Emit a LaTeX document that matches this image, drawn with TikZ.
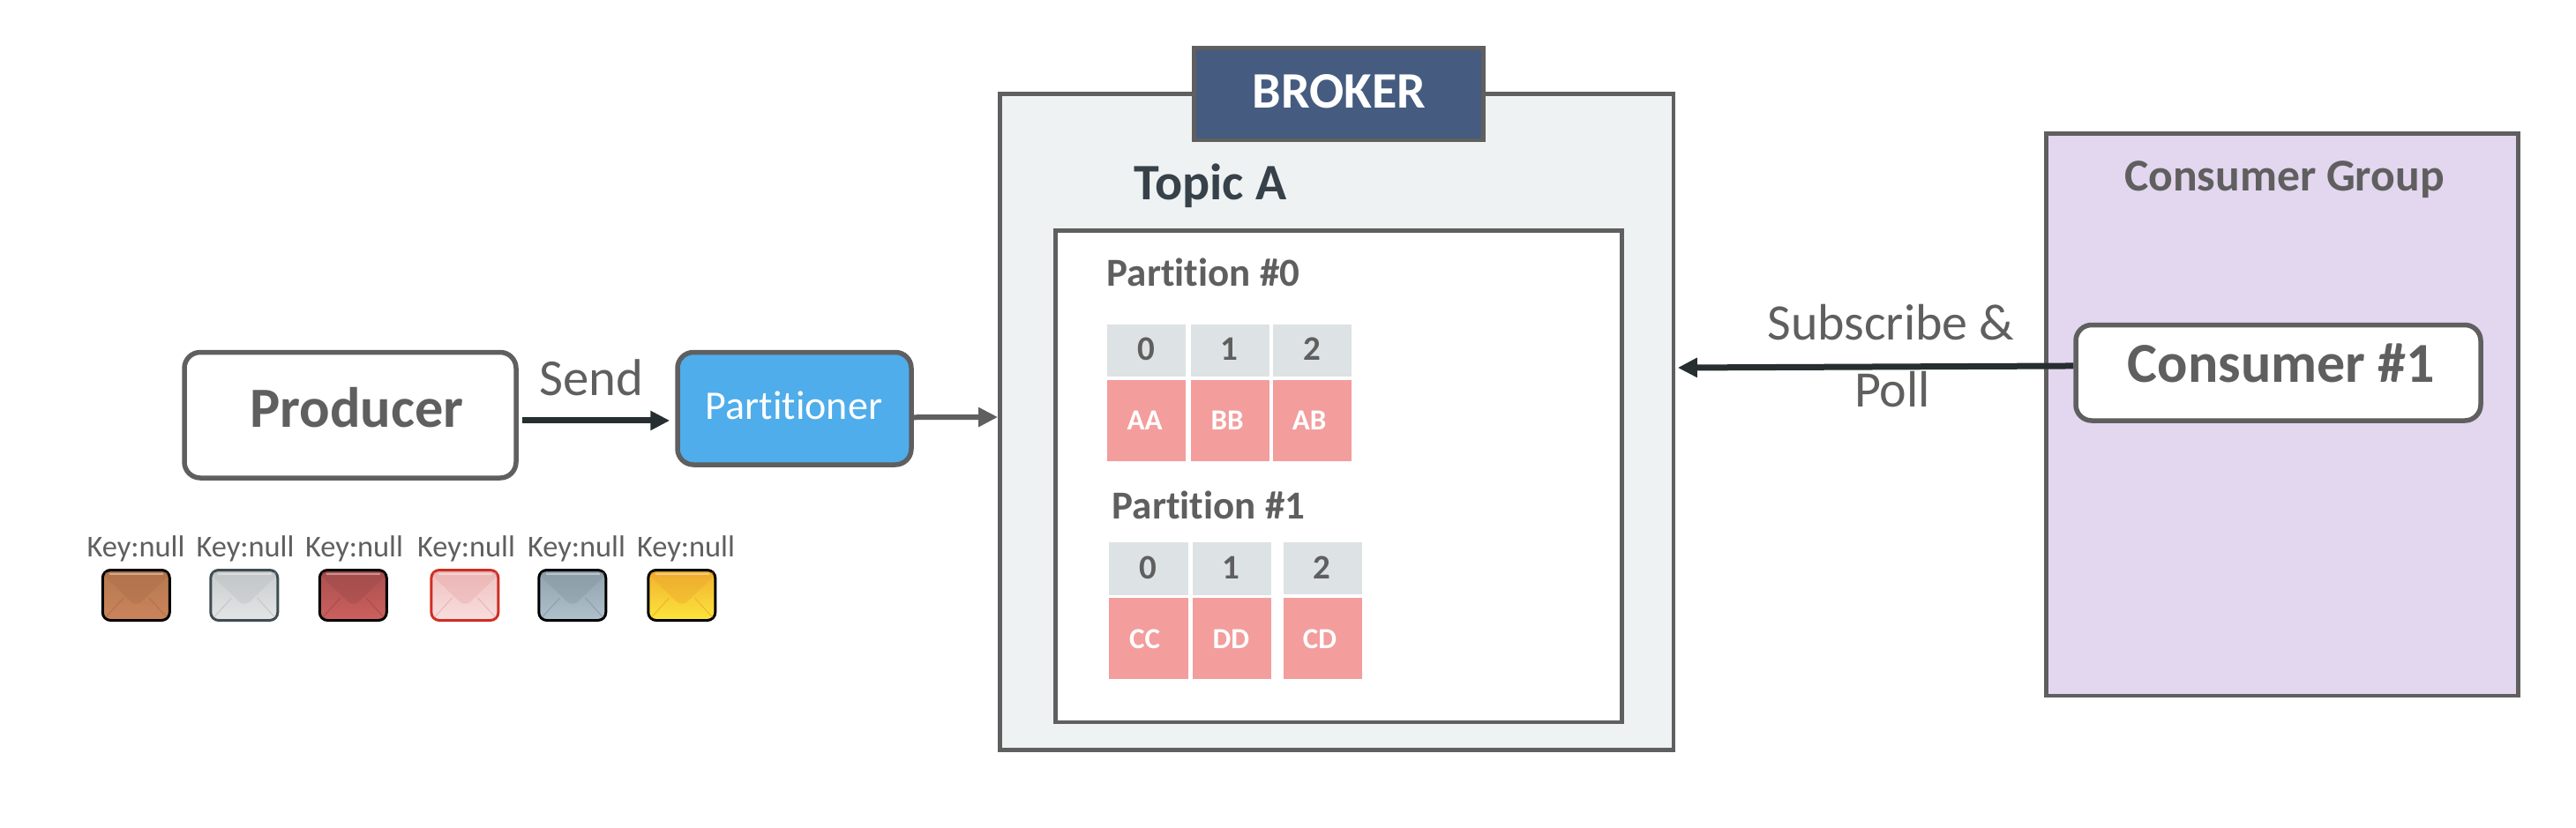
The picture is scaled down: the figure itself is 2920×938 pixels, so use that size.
\documentclass[tikz,border=0pt]{standalone}
\usepackage{fontspec}
\setmainfont[Ligatures=NoCommon]{Carlito}
\usetikzlibrary{arrows.meta}
\definecolor{ln}{HTML}{5F5F5F}
\definecolor{dk}{HTML}{262E30}
\definecolor{blu}{HTML}{4FADEB}
\definecolor{navy}{HTML}{455C80}
\definecolor{brk}{HTML}{EEF2F3}
\definecolor{lil}{HTML}{E3D6EF}
\definecolor{pnk}{HTML}{F39D9D}
\definecolor{hdc}{HTML}{DDE2E4}
\definecolor{tpc}{HTML}{37414A}
\tikzset{
  panel/.style={draw=ln,line width=2.4pt,rectangle,inner sep=0pt},
  rbox/.style={draw=ln,line width=2.75pt,rectangle,rounded corners=9pt,inner sep=0pt},
  headcell/.style={fill=hdc,rectangle,inner sep=0pt},
  datacell/.style={fill=pnk,rectangle,inner sep=0pt},
  lbl/.style={anchor=base,inner sep=0pt,text=ln},
  lblb/.style={lbl,font=\bfseries},
  thickarrow/.style={line width=3.5pt,-{Triangle[length=11pt,width=10.5pt]}},
  envbox/.style={rectangle,rounded corners=4.5pt,line width=1.5pt,inner sep=0pt,minimum width=38pt,minimum height=28.5pt,shading angle=0}
}
\newcommand{\mybox}[6]{%
  \pgfmathsetmacro\cxv{(#3+#5)/2}\pgfmathsetmacro\cyv{(#4+#6)/2}%
  \pgfmathsetmacro\wv{(#5-#3)*0.5}\pgfmathsetmacro\hv{(#6-#4)*0.5}%
  \node[#2,minimum width=\wv pt,minimum height=\hv pt] (#1) at (\cxv,\cyv) {};}
\newcommand{\mytext}[6]{%
  \node[#2,font=#3\fontsize{#4}{#4}\selectfont] (#1) at (#5) {#6};}
% name, x0, y0, border, top, bottom, flap
\newcommand{\myenv}[7]{%
  \definecolor{envb}{HTML}{#4}\definecolor{envt}{HTML}{#5}\definecolor{envu}{HTML}{#6}\definecolor{envf}{HTML}{#7}%
  \begin{scope}[shift={(#2,#3)}]
    \node[envbox,draw=envb,top color=envt,bottom color=envu] (#1) at (39.3,30) {};
    \fill[envf,opacity=.4] (4,9) -- (32,36) .. controls (36,41) and (43,41) .. (47,36) -- (75,9) -- (75,4) -- (4,4) -- cycle;
    \draw[white,opacity=.4,line width=1pt] (9,6) -- (70,6);
    \draw[envf,opacity=.6,line width=.6pt] (5,55) -- (25,33) (74,55) -- (54,33);
  \end{scope}}
\begin{document}
\begin{tikzpicture}[x=0.5pt,y=-0.5pt]
\useasboundingbox (0,0) rectangle (2920,938);
% broker
\mybox{broker}{panel,fill=brk}{1133.5}{106.5}{1897}{850.7}
\mybox{tab}{panel,fill=navy}{1353.3}{54.5}{1681.5}{159}
\mybox{topic}{panel,fill=white}{1196.5}{261.5}{1838.5}{819}
\mytext{brokerT}{lblb,text=white}{\bfseries}{29}{1517.7,122.7}{BROKER}
\mytext{topicT}{lblb,text=tpc}{\bfseries}{29}{1372,226}{Topic A}
\mytext{p0T}{lblb}{\bfseries}{22.5}{1364,324.7}{Partition \#0}
\mytext{p1T}{lblb}{\bfseries}{22.5}{1370,588.3}{Partition \#1}
% partition 0
\mybox{h00}{headcell}{1255}{368}{1344.3}{427.3}
\mybox{h01}{headcell}{1349.7}{368}{1439}{427.3}
\mybox{h02}{headcell}{1443.3}{368}{1532.3}{427.3}
\mybox{d00}{datacell}{1255}{431}{1344.3}{522.7}
\mybox{d01}{datacell}{1349.7}{431}{1439}{522.7}
\mybox{d02}{datacell}{1443.3}{431}{1532.3}{522.7}
\mytext{n00}{lblb}{\bfseries}{19.5}{1299.3,408}{0}
\mytext{n01}{lblb}{\bfseries}{19.5}{1393.3,408}{1}
\mytext{n02}{lblb}{\bfseries}{19.5}{1487.7,408}{2}
\mytext{t00}{lblb,text=white}{\bfseries}{16.5}{1297.7,487.3}{AA}
\mytext{t01}{lblb,text=white}{\bfseries}{16.5}{1391,487.3}{BB}
\mytext{t02}{lblb,text=white}{\bfseries}{16.5}{1484,487.3}{AB}
% partition 1
\mybox{h10}{headcell}{1257.3}{615.3}{1347}{674.7}
\mybox{h11}{headcell}{1352}{615.3}{1441}{674.7}
\mybox{h12}{headcell}{1454.7}{615}{1544}{674.3}
\mybox{d10}{datacell}{1257.3}{678.3}{1347}{770.3}
\mybox{d11}{datacell}{1352}{678.3}{1441}{770.3}
\mybox{d12}{datacell}{1454.7}{677.7}{1544}{769.7}
\mytext{n10}{lblb}{\bfseries}{19.5}{1301.7,656.7}{0}
\mytext{n11}{lblb}{\bfseries}{19.5}{1395.7,656.7}{1}
\mytext{n12}{lblb}{\bfseries}{19.5}{1498.7,656}{2}
\mytext{t10}{lblb,text=white}{\bfseries}{16.5}{1297.7,735.3}{CC}
\mytext{t11}{lblb,text=white}{\bfseries}{16.5}{1395.3,735.3}{DD}
\mytext{t12}{lblb,text=white}{\bfseries}{16.5}{1496,735.3}{CD}
% producer
\mybox{producer}{rbox,fill=white}{209}{399.5}{585}{542}
\mybox{partitioner}{rbox,fill=blu}{768}{399.5}{1033}{527}
\mytext{producerT}{lblb}{\bfseries}{32.2}{404.5,484}{Producer}
\mytext{partitionerT}{lbl,text=white}{}{23}{900,475}{Partitioner}
\mytext{sendT}{lbl}{}{29.4}{670.5,448}{Send}
% consumer
\mybox{group}{panel,fill=lil}{2319.7}{151.5}{2854.5}{789}
\mybox{consumer}{rbox,fill=white}{2353}{368.5}{2812}{477}
\mytext{groupT}{lblb}{\bfseries}{25.8}{2589.5,216}{Consumer Group}
\mytext{consumerT}{lblb}{\bfseries}{32}{2586,433}{Consumer \#1}
\mytext{subT}{lbl}{}{29}{2143.5,385}{Subscribe \&}
\mytext{pollT}{lbl}{}{29}{2145,461.7}{Poll}
% arrows
\draw[thickarrow,dk] ([xshift=2pt,yshift=-3.1pt]producer.east) -- ([xshift=-3pt,yshift=-6.85pt]partitioner.west);
\draw[thickarrow,ln,line width=3pt] ([yshift=-5pt]partitioner.east) -- ([yshift=2.8pt]broker.west);
\draw[thickarrow,dk] ([yshift=3.9pt]consumer.west) -- ([xshift=1.2pt,yshift=30.8pt]broker.east);
% envelopes
\myenv{e1}{115}{645}{000000}{B5794F}{CB845B}{A86C48}
\myenv{e2}{237.5}{645}{3F4C52}{C9CDCE}{E3E5E6}{B9BEC0}
\myenv{e3}{361}{645}{000000}{A9504F}{CC605E}{9A4848}
\myenv{e4}{487.6}{645}{CF2E24}{EFC0C0}{F8DEDE}{E8A8A8}
\myenv{e5}{609.5}{645}{000000}{90A2AD}{B0C1CC}{82959F}
\myenv{e6}{733.5}{645}{000000}{F2B030}{FBE63C}{EBA62B}
\mytext{k1}{lbl}{}{17.2}{154,631.7}{Key:null}
\mytext{k2}{lbl}{}{17.2}{278,631.7}{Key:null}
\mytext{k3}{lbl}{}{17.2}{401.5,631.7}{Key:null}
\mytext{k4}{lbl}{}{17.2}{528.5,631.7}{Key:null}
\mytext{k5}{lbl}{}{17.2}{653.5,631.7}{Key:null}
\mytext{k6}{lbl}{}{17.2}{777.5,631.7}{Key:null}
\end{tikzpicture}
\end{document}
